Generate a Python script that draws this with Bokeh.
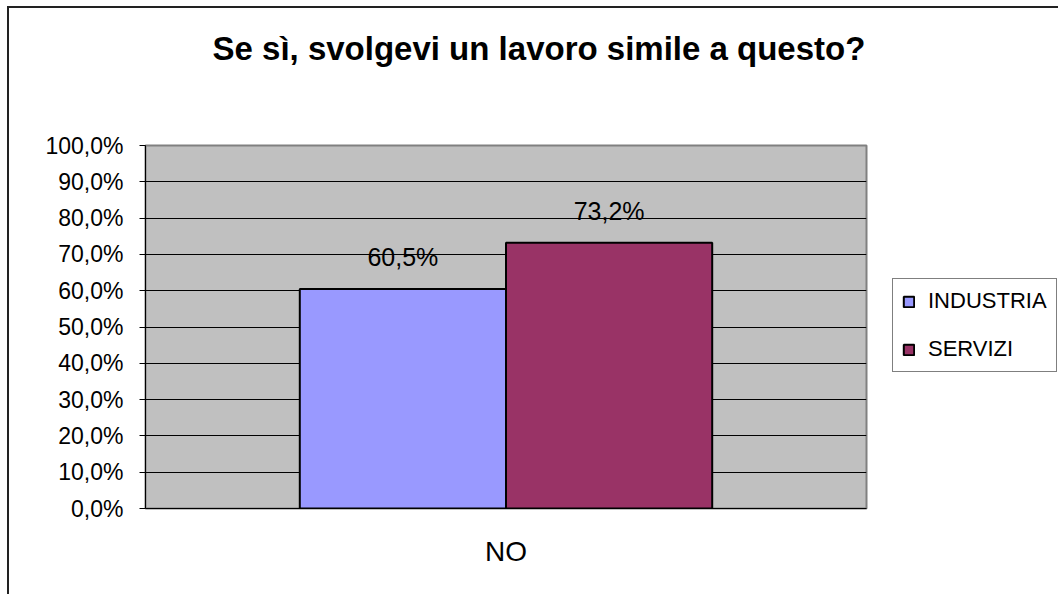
from bokeh.plotting import figure
from bokeh.models import (FactorRange, Range1d, ColumnDataSource, LabelSet, Legend,
                          LegendItem, Title, CustomJSTickFormatter, FixedTicker)
from bokeh.core.properties import value
from bokeh.transform import dodge
from bokeh.embed import file_html
from bokeh.resources import INLINE

title_text = "Se sì, svolgevi un lavoro simile a questo?"
categories = ["NO"]
series = ["INDUSTRIA", "SERVIZI"]
industria = [60.5]
servizi = [73.2]
colors = ["#9999FF", "#993366"]
y_ticks = [0, 10, 20, 30, 40, 50, 60, 70, 80, 90, 100]

FONT = "Liberation Sans"

def fmt(v):
    return f"{v:.1f}".replace(".", ",") + "%"

src = ColumnDataSource(dict(
    cat=categories,
    INDUSTRIA=industria,
    SERVIZI=servizi,
    lab_INDUSTRIA=[fmt(v) for v in industria],
    lab_SERVIZI=[fmt(v) for v in servizi],
))

p = figure(x_range=FactorRange(*categories, range_padding=0),
           y_range=Range1d(0, 100),
           frame_width=721, frame_height=363,
           output_backend="svg", toolbar_location=None,
           min_border_left=136, min_border_right=192,
           min_border_top=137, min_border_bottom=86)
p.styles = {"margin-left": "7px", "margin-top": "6px",
            "border-left": "2px solid #222", "border-top": "2px solid #222"}

p.background_fill_color = "#C0C0C0"
p.border_fill_color = "white"
p.outline_line_color = "#808080"
p.outline_line_width = 2

offsets = [-0.143, 0.143]
bar_w = 0.286
items = []
for name, col, off in zip(series, colors, offsets):
    r = p.vbar(x=dodge("cat", off, range=p.x_range), top=name, width=bar_w,
               source=src, fill_color=col, line_color="black", line_width=2)
    items.append(LegendItem(label=value(name), renderers=[r]))
    p.add_layout(LabelSet(x=dodge("cat", off, range=p.x_range), y=name,
                          text="lab_" + name, source=src,
                          text_align="center", text_baseline="alphabetic",
                          y_offset=23, text_font=value(FONT),
                          text_font_size=value("25px"),
                          text_color=value("black")))

legend = Legend(items=items, location=(26, 136),
                border_line_color="black", border_line_width=1,
                background_fill_color="white", background_fill_alpha=1,
                label_text_font=FONT, label_text_font_size="22px",
                label_text_color="black",
                glyph_width=13, glyph_height=13, label_standoff=13,
                label_height=22, spacing=22, padding=9, margin=0)
p.add_layout(legend, "right")

p.xgrid.grid_line_color = None
p.ygrid.grid_line_color = "black"
p.ygrid.grid_line_width = 1

p.yaxis.ticker = FixedTicker(ticks=y_ticks)
p.yaxis.formatter = CustomJSTickFormatter(
    code="return tick.toFixed(1).replace('.', ',') + '%';")
p.yaxis.axis_line_color = "black"
p.yaxis.major_tick_line_color = "black"
p.yaxis.major_tick_out = 6
p.yaxis.major_tick_in = 0
p.yaxis.minor_tick_line_color = None
p.yaxis.major_label_text_font = FONT
p.yaxis.major_label_text_font_size = "23px"
p.yaxis.major_label_text_color = "black"
p.yaxis.major_label_standoff = 16

p.xaxis.axis_line_color = "black"
p.xaxis.major_tick_line_color = None
p.xaxis.major_label_text_font = FONT
p.xaxis.major_label_text_font_size = "28px"
p.xaxis.major_label_text_color = "black"
p.xaxis.major_label_standoff = 21

# spacer between frame and title (first in "above" = nearest the frame)
p.add_layout(Title(text=" ", standoff=76, text_font_size="1px"), "above")
p.add_layout(Title(text=title_text, align="left", offset=67, standoff=0,
                   vertical_align="bottom",
                   text_font=FONT, text_font_size="33px", text_font_style="bold",
                   text_color="black"), "above")

open("out.html", "w").write(file_html(p, INLINE))
